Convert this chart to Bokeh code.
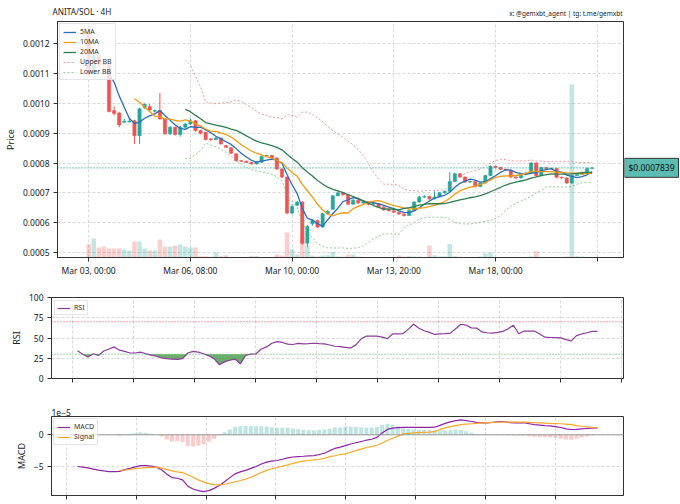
import numpy as np
import pandas as pd
from bokeh.plotting import figure
from bokeh.layouts import column, row
from bokeh.models import (Range1d, FixedTicker, PrintfTickFormatter, CustomJSTickFormatter,
                          Label, Legend, LegendItem, Span, Title)
from bokeh.embed import file_html
from bokeh.resources import INLINE

FONT = "Noto Sans"

# ---------------- data (prices in units of 1e-4) ----------------
open_e4 = [12.30, 11.00, 11.60, 11.32, 11.30, 9.76, 9.68, 9.37, 9.38, 9.42,
           8.92, 9.86, 9.90, 9.74, 9.76, 9.48, 8.98, 9.20, 8.96, 9.20,
           9.31, 9.42, 9.09, 9.03, 8.81, 8.79, 8.84, 8.59, 8.51, 8.31,
           8.08, 8.06, 8.02, 7.97, 8.03, 8.22, 8.25, 8.17, 7.80, 7.53,
           6.32, 6.58, 6.69, 5.31, 5.96, 6.07, 5.85, 6.30, 6.45, 6.90,
           7.00, 6.93, 6.62, 6.75, 6.66, 6.70, 6.62, 6.64, 6.52, 6.43,
           6.40, 6.35, 6.29, 6.24, 6.41, 6.69, 6.86, 6.88, 6.80, 6.86,
           7.00, 7.05, 7.38, 7.64, 7.53, 7.36, 7.38, 7.21, 7.33, 7.58,
           7.89, 7.85, 7.79, 7.76, 7.53, 7.50, 7.63, 7.66, 8.00, 7.58,
           7.85, 7.80, 7.82, 7.52, 7.50, 7.33, 7.58, 7.62, 7.68, 7.82]
high_e4 = [12.50, 11.70, 11.65, 11.40, 11.35, 9.90, 9.72, 9.48, 9.50, 9.45,
           9.85, 10.00, 9.98, 9.80, 10.35, 9.50, 9.25, 9.22, 9.25, 9.35,
           9.50, 9.45, 9.12, 9.05, 8.84, 8.87, 8.86, 8.61, 8.53, 8.33,
           8.10, 8.08, 8.04, 8.06, 8.25, 8.28, 8.28, 8.19, 7.83, 7.55,
           6.62, 6.72, 6.72, 5.92, 6.10, 6.10, 6.33, 6.42, 6.93, 7.05,
           7.03, 6.96, 6.80, 6.85, 6.73, 6.72, 6.68, 6.66, 6.55, 6.46,
           6.42, 6.37, 6.31, 6.44, 6.72, 6.90, 6.92, 6.90, 7.05, 7.03,
           7.08, 7.70, 7.68, 7.66, 7.55, 7.41, 7.40, 7.36, 7.61, 7.92,
           7.91, 7.87, 7.81, 7.78, 7.56, 7.66, 7.70, 8.04, 8.02, 7.88,
           7.87, 7.85, 7.84, 7.55, 7.52, 7.62, 7.65, 7.71, 7.85, 7.86]
low_e4 = [10.90, 10.95, 11.20, 11.15, 9.70, 9.60, 9.20, 9.35, 9.36, 8.64,
          8.64, 9.82, 9.74, 9.70, 9.45, 8.95, 8.94, 8.92, 8.88, 9.15,
          9.28, 9.05, 8.96, 8.76, 8.75, 8.76, 8.62, 8.50, 8.30, 8.05,
          8.03, 8.00, 7.95, 7.95, 8.01, 8.20, 8.14, 7.77, 7.50, 6.28,
          6.28, 6.55, 5.25, 5.20, 5.90, 5.82, 5.83, 6.27, 6.42, 6.88,
          6.90, 6.58, 6.60, 6.63, 6.62, 6.58, 6.58, 6.49, 6.40, 6.37,
          6.32, 6.26, 6.20, 6.22, 6.40, 6.67, 6.83, 6.77, 6.78, 6.84,
          6.97, 7.03, 7.35, 7.50, 7.33, 7.33, 7.18, 7.19, 7.31, 7.56,
          7.82, 7.76, 7.73, 7.50, 7.47, 7.48, 7.60, 7.64, 7.55, 7.56,
          7.77, 7.78, 7.49, 7.47, 7.30, 7.30, 7.56, 7.60, 7.66, 7.80]
close_e4 = [11.00, 11.60, 11.30, 11.30, 9.73, 9.66, 9.28, 9.40, 9.41, 8.92,
            9.82, 9.97, 9.78, 9.76, 9.48, 8.98, 9.20, 8.96, 9.20, 9.31,
            9.42, 9.09, 9.00, 8.79, 8.78, 8.84, 8.64, 8.53, 8.33, 8.08,
            8.06, 8.02, 7.97, 8.04, 8.22, 8.25, 8.17, 7.80, 7.53, 6.32,
            6.54, 6.69, 5.31, 5.87, 6.07, 5.85, 6.30, 6.38, 6.90, 7.00,
            6.94, 6.62, 6.75, 6.66, 6.70, 6.62, 6.64, 6.52, 6.43, 6.40,
            6.35, 6.29, 6.24, 6.41, 6.69, 6.86, 6.88, 6.80, 6.86, 7.00,
            7.05, 7.38, 7.64, 7.53, 7.36, 7.38, 7.21, 7.33, 7.58, 7.89,
            7.85, 7.79, 7.76, 7.53, 7.50, 7.63, 7.66, 8.00, 7.58, 7.85,
            7.80, 7.82, 7.52, 7.50, 7.33, 7.58, 7.62, 7.68, 7.82, 7.839]
volume_k = [13, 19, 10, 11, 9, 9, 9, 8, 7, 16,
            16, 9, 7, 7, 18, 11, 11, 12, 13, 11,
            10, 10, 1.3, 1.3, 0.7, 5, 1.3, 2.3, 0.4, 0.5,
            0.5, 0.5, 1.3, 1.3, 0.6, 0.6, 0.6, 3, 2, 25,
            8, 3, 20, 12, 2, 1, 2, 2.3, 5.7, 1,
            0.8, 3, 3, 1, 0.5, 0.5, 0.5, 0.5, 0.5, 0.5,
            0.5, 2, 0.8, 1.3, 0.8, 0.8, 0.5, 12, 2.3, 1,
            1, 13.5, 1.3, 0.8, 0.6, 0.6, 0.6, 1, 4, 5,
            0.5, 0.5, 0.5, 0.5, 0.5, 0.5, 0.5, 1, 6.3, 0.5,
            0.5, 0.5, 0.5, 0.5, 1, 173, 1.3, 0.8, 0.6, 0.5]
tick_index = [0, 20, 40, 60, 80, 100]
tick_text = ["Mar 03, 00:00", "Mar 06, 08:00", "Mar 10, 00:00", "Mar 13, 20:00", "Mar 18, 00:00", ""]

rsi = [34.3, 30, 26.5, 30.5, 28.5, 34, 36.5, 39, 35, 33.5,
       31.5, 31.5, 32.5, 30.5, 28.8, 27.5, 25.5, 24.5, 24, 23.5,
       24.5, 31.5, 33.5, 32.5, 30.5, 28, 24.5, 17, 20.5, 22.5,
       24, 18, 28.5, 30, 30.5, 36.5, 39, 43.5, 45.5, 44.5,
       42.5, 42, 43.3, 42.8, 43, 43.5, 43, 42.7, 41.4, 39.8,
       39.3, 38.5, 37.7, 41.5, 49, 52.3, 52.3, 52.3, 51, 49.2,
       55, 55.2, 55.5, 61, 67, 62, 59, 57, 54.4, 55,
       55.3, 56, 61.5, 67, 65.8, 62.5, 62.3, 57.5, 56.5, 56.1,
       57, 58.2, 61.5, 65.7, 55.2, 58.6, 58.6, 58.6, 55, 51,
       50.6, 50.4, 50.2, 48, 46.4, 53, 55, 56.5, 58.2, 58.2]
# MACD and signal in units of 1e-5
macd_e5 = [-5.0, -5.1, -5.22, -5.4, -5.58, -5.7, -5.8, -5.8, -5.76, -5.5,
           -5.28, -5.05, -4.85, -4.85, -4.95, -5.1, -5.5, -6.2, -6.75, -6.85,
           -7.1, -8.1, -8.55, -8.8, -8.95, -8.8, -8.45, -8.0, -7.4, -6.75,
           -6.15, -5.85, -5.6, -5.3, -5.0, -4.6, -4.3, -4.15, -4.05, -3.85,
           -3.63, -3.5, -3.43, -3.38, -3.32, -3.27, -3.1, -2.9, -2.5, -2.15,
           -1.95, -1.7, -1.45, -1.25, -1.05, -0.85, -0.7, -0.4, 0.3, 0.85,
           1.05, 1.15, 1.16, 1.16, 1.16, 1.16, 1.17, 1.18, 1.2, 1.5,
           1.8, 2.05, 2.25, 2.37, 2.25, 2.1, 1.95, 1.9, 1.9, 1.95,
           2.05, 2.1, 1.95, 1.9, 1.9, 1.9, 1.75, 1.6, 1.53, 1.45,
           1.4, 1.3, 1.15, 0.95, 0.84, 0.85, 0.93, 1.0, 1.05, 1.1]
signal_e5 = [None, None, None, None, None, None, None, None, -5.62, -5.55,
             -5.45, -5.3, -5.25, -5.18, -5.12, -5.1, -5.25, -5.45, -5.7, -5.85,
             -5.95, -6.3, -6.7, -7.1, -7.45, -7.7, -7.85, -7.9, -7.8, -7.6,
             -7.4, -7.2, -7.0, -6.7, -6.35, -5.95, -5.6, -5.35, -5.15, -4.95,
             -4.75, -4.5, -4.3, -4.15, -4.05, -3.95, -3.85, -3.72, -3.45, -3.3,
             -3.1, -3.0, -2.75, -2.5, -2.25, -2.0, -1.85, -1.65, -1.3, -0.9,
             -0.55, -0.2, 0.15, 0.25, 0.32, 0.36, 0.4, 0.42, 0.5, 0.85,
             1.1, 1.3, 1.45, 1.6, 1.7, 1.75, 1.82, 1.88, 1.92, 1.95,
             1.98, 2.0, 2.0, 2.0, 2.0, 2.0, 1.97, 1.92, 1.88, 1.84,
             1.8, 1.78, 1.75, 1.7, 1.6, 1.45, 1.35, 1.25, 1.15, 1.1]

# ---------------- derived ----------------
n = len(close_e4)
idx = np.arange(n)
o = np.array(open_e4) * 1e-4
h = np.array(high_e4) * 1e-4
l = np.array(low_e4) * 1e-4
c = np.array(close_e4) * 1e-4
vol = np.array(volume_k, dtype=float)
up = c >= o
UP, DN = "#26a69a", "#ef5350"
cols = np.where(up, UP, DN)

cs = pd.Series(c)
ma5 = cs.rolling(5).mean().to_numpy()
ma10 = cs.rolling(10).mean().to_numpy()
ma20 = cs.rolling(20).mean().to_numpy()
sd20 = cs.rolling(20).std().to_numpy()
bb_up = ma20 + 2 * sd20
bb_lo = ma20 - 2 * sd20

rsi_a = np.array(rsi, dtype=float)
macd_a = np.array(macd_e5, dtype=float)
sig_a = np.array([np.nan if v is None else v for v in signal_e5], dtype=float)
hist = macd_a - sig_a
hist_ok = ~np.isnan(hist)
hist_cols = np.where(hist >= 0, UP, DN)

LEFT = 51      # left border (px) shared by all panels
PW = 624       # width of the panels (frame ends 1px before)
XR = (-6.13, 105.16)


def style(fig):
    fig.background_fill_color = "white"
    fig.border_fill_color = "white"
    fig.outline_line_color = "#333333"
    fig.outline_line_width = 1
    fig.grid.grid_line_color = "#cfcfcf"
    fig.grid.grid_line_dash = "3 2"
    fig.grid.grid_line_alpha = 0.8
    for ax in fig.axis:
        ax.axis_line_color = "#333333"
        ax.major_tick_line_color = "#333333"
        ax.major_tick_out = 4
        ax.major_tick_in = 0
        ax.minor_tick_line_color = None
        ax.major_label_text_font = FONT
        ax.major_label_text_font_size = "8.5px"
        ax.major_label_text_color = "#222222"
        ax.axis_label_text_font = FONT
        ax.axis_label_text_font_size = "9px"
        ax.axis_label_text_font_style = "normal"
        ax.axis_label_text_color = "#222222"
        ax.major_label_standoff = 4
        ax.axis_label_standoff = 3


def legend_style(lg, pad=3):
    lg.label_text_font = FONT
    lg.label_text_font_size = "7px"
    lg.label_text_color = "#333333"
    lg.glyph_width = 13
    lg.glyph_height = 8
    lg.label_height = 8
    lg.label_width = 10
    lg.label_standoff = 4
    lg.spacing = 1
    lg.padding = pad
    lg.border_line_color = "#cccccc"
    lg.background_fill_alpha = 0.8


def bare(fig):
    fig.outline_line_color = None
    fig.background_fill_color = "white"
    fig.border_fill_color = "white"
    for g in fig.grid:
        g.visible = False


# ---------------- header (same horizontal frame as the panels) ----------------
hdr = figure(width=PW, height=20, x_range=Range1d(*XR), y_range=Range1d(20, 0),
             output_backend="svg", toolbar_location=None,
             min_border_left=LEFT, min_border_right=1, min_border_top=0, min_border_bottom=0,
             x_axis_location=None, y_axis_location=None)
bare(hdr)
hdr.add_layout(Label(x=XR[0], y=11, x_offset=1, text="ANITA/SOL · 4H", text_baseline="middle",
                     text_align="left", text_font=FONT, text_font_size="8.2px",
                     text_color="#222222"))
hdr.add_layout(Label(x=XR[1], y=12.5, x_offset=-1, text="x: @gemxbt_agent | tg: t.me/gemxbt",
                     text_baseline="middle", text_align="right", text_font=FONT,
                     text_font_size="6.5px", text_color="#222222"))

# ---------------- main price panel ----------------
p = figure(width=PW, height=259, x_range=Range1d(*XR),
           y_range=Range1d(0.000483, 0.001275), output_backend="svg",
           toolbar_location=None, min_border_left=LEFT, min_border_right=1,
           min_border_top=1, min_border_bottom=22)
p.extra_y_ranges = {"vol": Range1d(0, vol.max() / 0.733)}
p.vbar(x=idx, width=0.9, top=vol, bottom=0, y_range_name="vol",
       fill_color=cols, line_color=None, fill_alpha=0.28)
p.segment(x0=idx, y0=l, x1=idx, y1=h, line_color=cols, line_width=1)
p.vbar(x=idx, width=0.65, top=np.maximum(o, c), bottom=np.minimum(o, c),
       fill_color=cols, line_color=cols, line_width=0.5)
r5 = p.line(idx, ma5, line_color="#2a6ebb", line_width=1.3)
r10 = p.line(idx, ma10, line_color="#f39c12", line_width=1.3)
r20 = p.line(idx, ma20, line_color="#2e7d4f", line_width=1.3)
rbu = p.line(idx, bb_up, line_color="#e57373", line_width=0.9, line_dash="2 2", line_alpha=0.8)
rbl = p.line(idx, bb_lo, line_color="#66bb6a", line_width=0.9, line_dash="2 2", line_alpha=0.8)
last = c[-1]
p.line([p.x_range.start, idx[-1] + 0.3], [last, last], line_color=UP,
       line_width=1.2, line_dash="1 2")

p.xaxis.ticker = FixedTicker(ticks=tick_index)
p.xaxis.major_label_overrides = {t: s for t, s in zip(tick_index, tick_text)}
p.yaxis.ticker = FixedTicker(ticks=[0.0005, 0.0006, 0.0007, 0.0008, 0.0009, 0.0010, 0.0011, 0.0012])
p.yaxis.formatter = PrintfTickFormatter(format="%.4f")
p.yaxis.axis_label = "Price"
style(p)
p.xaxis.major_label_standoff = 3

lg = Legend(items=[LegendItem(label="5MA", renderers=[r5]),
                   LegendItem(label="10MA", renderers=[r10]),
                   LegendItem(label="20MA", renderers=[r20]),
                   LegendItem(label="Upper BB", renderers=[rbu]),
                   LegendItem(label="Lower BB", renderers=[rbl])],
            location="top_left", margin=2)
legend_style(lg)
p.add_layout(lg)

# side strip holding the last-price tag, sharing the price scale
side = figure(width=680 - PW, height=259, x_range=Range1d(0, 1), y_range=p.y_range,
              output_backend="svg", toolbar_location=None, min_border_left=0,
              min_border_right=0, min_border_top=1, min_border_bottom=22,
              x_axis_location=None, y_axis_location=None)
bare(side)
side.add_layout(Label(x=0, y=last, x_offset=0, text=f"${last:.7f}",
                      text_baseline="middle", text_align="left", text_font=FONT,
                      text_font_size="8.5px", text_color="#111111",
                      background_fill_color=UP, background_fill_alpha=0.75,
                      border_line_color="#333333", border_line_width=1, padding=4))

blank = CustomJSTickFormatter(code="return ''")

# ---------------- RSI panel ----------------
pr = figure(width=PW, height=119, x_range=Range1d(-4.95, 103.95), y_range=Range1d(0, 100),
            output_backend="svg", toolbar_location=None, min_border_left=LEFT,
            min_border_right=1, min_border_top=18, min_border_bottom=20)
pr.varea(x=idx, y1=np.minimum(rsi_a, 30), y2=30, fill_color="#2e8b2e", fill_alpha=0.7)
rr = pr.line(idx, rsi_a, line_color="#8e3a9e", line_width=1.2)
pr.add_layout(Span(location=70, dimension="width", line_color="#ef5350", line_dash="1 2", line_width=1.1))
pr.add_layout(Span(location=30, dimension="width", line_color="#4caf50", line_dash="1 2", line_width=1.1))
pr.xaxis.ticker = FixedTicker(ticks=[-0.95 + 11.62 * k for k in range(10)])
pr.xaxis.formatter = blank
pr.yaxis.ticker = FixedTicker(ticks=[0, 25, 50, 75, 100])
pr.yaxis.axis_label = "RSI"
style(pr)
pr.xaxis.major_label_standoff = 0
pr.xaxis.major_label_text_font_size = "1px"
lg2 = Legend(items=[LegendItem(label="RSI", renderers=[rr])], location="top_left", margin=3)
legend_style(lg2, pad=2)
pr.add_layout(lg2)

# ---------------- MACD panel ----------------
pm = figure(width=PW, height=105, x_range=Range1d(-4.95, 103.95), y_range=Range1d(-9.57, 2.89),
            output_backend="svg", toolbar_location=None, min_border_left=LEFT,
            min_border_right=1, min_border_top=18, min_border_bottom=8)
pm.add_layout(Span(location=0, dimension="width", line_color="#999999", line_width=1))
pm.vbar(x=idx[hist_ok], width=0.75, top=hist[hist_ok], bottom=0,
        fill_color=hist_cols[hist_ok], line_color=None, fill_alpha=0.3)
rm = pm.line(idx, macd_a, line_color="#8e24aa", line_width=1.2)
rs = pm.line(idx, sig_a, line_color="#ffa726", line_width=1.2)
pm.xaxis.ticker = FixedTicker(ticks=[-2.1 + 13.29 * k for k in range(8)])
pm.xaxis.formatter = blank
pm.yaxis.ticker = FixedTicker(ticks=[-5, 0])
pm.yaxis.major_label_overrides = {-5: "\u22125", 0: "0"}
pm.yaxis.axis_label = "MACD"
style(pm)
pm.xaxis.major_label_standoff = 0
pm.xaxis.major_label_text_font_size = "1px"
pm.add_layout(Title(text="1e\u22125", align="left", standoff=1, text_font=FONT,
                    text_font_size="8.5px", text_font_style="normal",
                    text_color="#222222"), "above")
lg3 = Legend(items=[LegendItem(label="MACD", renderers=[rm]),
                    LegendItem(label="Signal", renderers=[rs])],
             location="top_left", margin=2)
legend_style(lg3)
pm.add_layout(lg3)

layout = column(hdr, row(p, side), pr, pm)
open("out.html", "w").write(file_html(layout, INLINE))
